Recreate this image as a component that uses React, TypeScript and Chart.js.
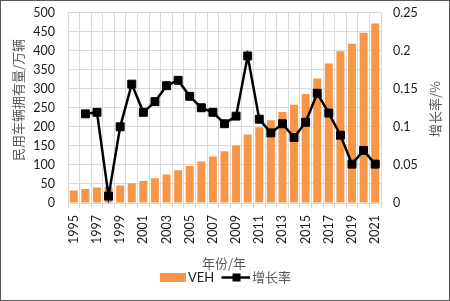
import React, { useEffect, useRef } from "react";
import { Chart, registerables } from "chart.js";

Chart.register(...registerables);

const years: string[] = [
  "1995", "1996", "1997", "1998", "1999", "2000", "2001", "2002", "2003", "2004",
  "2005", "2006", "2007", "2008", "2009", "2010", "2011", "2012", "2013", "2014",
  "2015", "2016", "2017", "2018", "2019", "2020", "2021",
];

const vehValues: number[] = [
  33, 37, 41, 42, 46, 52, 58, 65, 75, 86,
  97, 109, 122, 136, 151, 180, 199, 217, 239, 258,
  286, 327, 366, 398, 418, 447, 471,
];

const growthValues: (number | null)[] = [
  null, 0.117, 0.119, 0.009, 0.100, 0.156, 0.119, 0.133, 0.154, 0.161,
  0.140, 0.125, 0.119, 0.104, 0.114, 0.193, 0.110, 0.092, 0.104, 0.086,
  0.106, 0.144, 0.118, 0.089, 0.051, 0.069, 0.051,
];

const leftTicks: number[] = [0, 50, 100, 150, 200, 250, 300, 350, 400, 450, 500];
const rightTicks: number[] = [0, 0.05, 0.1, 0.15, 0.2, 0.25];

const leftTitle = "民用车辆拥有量/万辆";
const rightTitle = "增长率/%";
const xTitle = "年份/年";
const barLabel = "VEH";
const lineLabel = "增长率";

const ORANGE = "#F79646";
const NUM_FONT = "Lato, 'Noto Sans', sans-serif";
const CJK_FONT = "'Noto Sans CJK SC', sans-serif";

const decorPlugin = {
  id: "decor",
  afterDraw(chart: any) {
    const ctx = chart.ctx as CanvasRenderingContext2D;
    ctx.save();
    ctx.strokeStyle = "#595959";
    ctx.lineWidth = 1;
    ctx.strokeRect(0.5, 0.5, chart.width - 1, chart.height - 1);

    ctx.fillStyle = "#595959";
    ctx.textAlign = "center";
    ctx.textBaseline = "middle";
    ctx.font = `13px ${CJK_FONT}`;
    ctx.save();
    ctx.translate(18, 100);
    ctx.rotate(-Math.PI / 2);
    ctx.fillText(leftTitle, 0, 0);
    ctx.restore();

    ctx.font = `13px ${CJK_FONT}`;
    ctx.save();
    ctx.translate(435, 109);
    ctx.rotate(-Math.PI / 2);
    ctx.fillText(rightTitle, 0, 0);
    ctx.restore();

    ctx.font = `13px ${CJK_FONT}`;
    ctx.fillText(xTitle, 224, 263);

    const ly = 277.5;
    ctx.fillStyle = ORANGE;
    ctx.fillRect(160, 273, 26, 9);
    ctx.fillStyle = "#1a1a1a";
    ctx.textAlign = "left";
    ctx.font = `13px ${NUM_FONT}`;
    ctx.fillText(barLabel, 188, ly);
    ctx.strokeStyle = "#000";
    ctx.lineWidth = 2.5;
    ctx.beginPath();
    ctx.moveTo(221.5, ly);
    ctx.lineTo(250, ly);
    ctx.stroke();
    ctx.fillStyle = "#000";
    ctx.fillRect(232.5, ly - 4, 8, 8);
    ctx.fillStyle = "#595959";
    ctx.font = `13px ${CJK_FONT}`;
    ctx.fillText(lineLabel, 252, ly);
    ctx.restore();
  },
};

export default function App() {
  const canvasRef = useRef<HTMLCanvasElement | null>(null);

  useEffect(() => {
    const canvas = canvasRef.current;
    if (!canvas) return;
    const chart = new Chart(canvas, {
      type: "bar",
      data: {
        labels: years,
        datasets: [
          {
            type: "line",
            label: lineLabel,
            data: growthValues,
            yAxisID: "y1",
            borderColor: "#000",
            backgroundColor: "#000",
            borderWidth: 2.5,
            pointStyle: "rect",
            pointRadius: 5.6,
            pointBorderWidth: 1,
            pointBackgroundColor: "#000",
            pointBorderColor: "#000",
            tension: 0,
            order: 0,
          } as any,
          {
            type: "bar",
            label: barLabel,
            data: vehValues,
            yAxisID: "y",
            backgroundColor: ORANGE,
            borderWidth: 0,
            categoryPercentage: 1,
            barPercentage: 0.69,
            order: 1,
          } as any,
        ],
      },
      options: {
        responsive: false,
        animation: false,
        devicePixelRatio: 1,
        layout: { padding: { top: 12.5, left: 0, right: 0, bottom: 0 } },
        plugins: {
          legend: { display: false },
          tooltip: { enabled: false },
        },
        scales: {
          x: {
            offset: true,
            grid: {
              offset: true,
              color: "#d9d9d9",
              lineWidth: 1,
              drawTicks: true,
              tickLength: 5,
            },
            border: { color: "#d9d9d9" },
            ticks: {
              autoSkip: false,
              minRotation: 90,
              maxRotation: 90,
              padding: 7,
              color: "#1a1a1a",
              font: { family: NUM_FONT, size: 12.5 },
              callback: (_v: any, i: number) => (i % 2 === 0 ? years[i] : ""),
            },
            afterFit: (scale: any) => {
              scale.height = 98;
            },
          },
          y: {
            position: "left",
            min: 0,
            max: 500,
            afterBuildTicks: (scale: any) => {
              scale.ticks = leftTicks.map((v) => ({ value: v }));
            },
            grid: { color: "#d9d9d9", drawTicks: true, tickLength: 13, tickColor: "rgba(0,0,0,0)" },
            border: { display: false },
            ticks: {
              padding: 0,
              color: "#1a1a1a",
              font: { family: NUM_FONT, size: 12.5 },
            },
            afterFit: (scale: any) => {
              scale.width = 68;
            },
          },
          y1: {
            position: "right",
            min: 0,
            max: 0.25,
            afterBuildTicks: (scale: any) => {
              scale.ticks = rightTicks.map((v) => ({ value: v }));
            },
            grid: {
              display: true,
              drawOnChartArea: false,
              drawTicks: true,
              tickLength: 12,
              tickColor: "rgba(0,0,0,0)",
            },
            border: { display: false },
            ticks: {
              padding: 0,
              color: "#1a1a1a",
              font: { family: NUM_FONT, size: 12.5 },
              callback: (v: any) => String(Number(v)),
            },
            afterFit: (scale: any) => {
              scale.width = 69;
            },
          },
        },
      },
      plugins: [decorPlugin],
    });
    return () => chart.destroy();
  }, []);

  return (
    <div style={{ position: "absolute", left: 0, top: 0, width: 450, height: 301, background: "#fff" }}>
      <canvas ref={canvasRef} width={450} height={301} style={{ display: "block" }} />
    </div>
  );
}
